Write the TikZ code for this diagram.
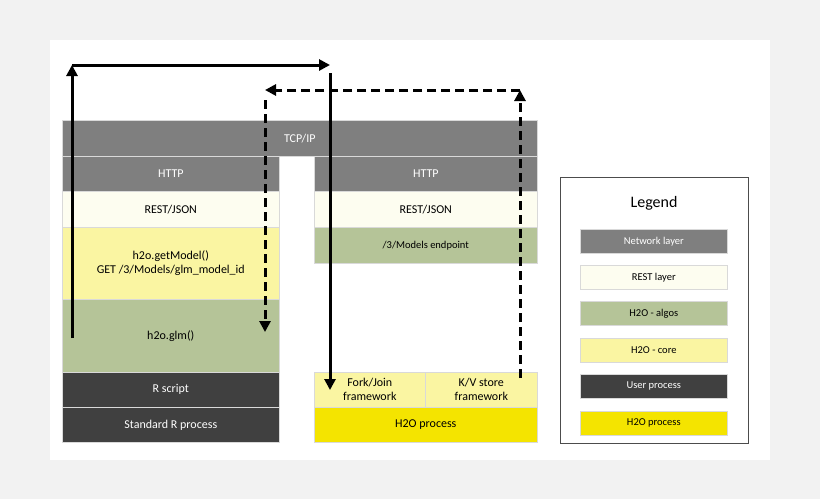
\documentclass[tikz,border=0pt]{standalone}
\usepackage{fontspec}
\setmainfont{Carlito}
\usetikzlibrary{arrows.meta,positioning}
\definecolor{netgray}{HTML}{7F7F7F}
\definecolor{restwhite}{HTML}{FDFDF0}
\definecolor{algogreen}{HTML}{B5C498}
\definecolor{coreyellow}{HTML}{FAF5A2}
\definecolor{userdark}{HTML}{404040}
\definecolor{procyellow}{HTML}{F4E400}
\tikzset{
  layer/.style={draw=black!15, line width=0.6pt, anchor=north west, inner sep=0pt,
    font=\fontsize{12}{14}\selectfont, align=center},
  legitem/.style={layer, minimum width=147pt, minimum height=24pt, font=\fontsize{10.5}{12}\selectfont},
  flow/.style={line width=3pt, -{Triangle[length=11pt,width=11pt]}},
  back/.style={flow, dash pattern=on 9pt off 5pt}
}
\begin{document}
\begin{tikzpicture}[x=1pt,y=-1pt]
    \useasboundingbox (0,0) rectangle (820,499);
    % Background
    \fill[black!5] (0,0) rectangle (820,499);
    \fill[white] (50,40) rectangle (770,460);

    % Network layer
    \node[layer, fill=netgray, text=white, minimum width=475pt, minimum height=36pt] (tcp) at (62,120) {TCP/IP};
    \node[layer, fill=netgray, text=white, minimum width=217pt, minimum height=35pt] (httpL) at (62,156) {HTTP};
    \node[layer, fill=netgray, text=white, minimum width=223pt, minimum height=35pt] (httpR) at (314,156) {HTTP};

    % REST layer
    \node[layer, fill=restwhite, minimum width=217pt, minimum height=36pt] (restL) at (62,191) {REST/JSON};
    \node[layer, fill=restwhite, minimum width=223pt, minimum height=36pt] (restR) at (314,191) {REST/JSON};

    % Client side
    \node[layer, fill=coreyellow, minimum width=217pt, minimum height=72pt] (getmodel) at (62,227) {h2o.getModel()\\GET /3/Models/glm\_model\_id};
    \node[layer, fill=algogreen, minimum width=217pt, minimum height=73pt] (glm) at (62,299) {h2o.glm()};
    \node[layer, fill=userdark, text=white, minimum width=217pt, minimum height=35pt] (rscript) at (62,372) {R script};
    \node[layer, fill=userdark, text=white, minimum width=217pt, minimum height=35pt] (rproc) at (62,407) {Standard R process};

    % Server side
    \node[layer, fill=algogreen, minimum width=223pt, minimum height=36pt, font=\fontsize{10.5}{12}\selectfont] (endpoint) at (314,227) {/3/Models endpoint};
    \node[layer, fill=coreyellow, minimum width=111pt, minimum height=35pt] (forkjoin) at (314,372) {Fork/Join\\framework};
    \node[layer, fill=coreyellow, minimum width=112pt, minimum height=35pt] (kvstore) at (425,372) {K/V store\\framework};
    \node[layer, fill=procyellow, minimum width=223pt, minimum height=35pt] (h2oproc) at (314,407) {H2O process};

    % Request path
    \coordinate (reqA) at (72,338);
    \coordinate (reqB) at (72,65);
    \coordinate (reqC) at (330,65);
    \coordinate (reqD) at (330,73);
    \coordinate (reqE) at (330,390);
    \draw[flow] (reqA) -- (reqB);
    \draw[flow] (reqB) -- (reqC);
    \draw[flow] (reqD) -- (reqE);

    % Response path
    \coordinate (resA) at (520,378);
    \coordinate (resB) at (520,90);
    \coordinate (resC) at (265,90);
    \coordinate (resD) at (265,100);
    \coordinate (resE) at (265,332);
    \draw[back] (resA) -- (resB);
    \draw[back] (resB) -- (resC);
    \draw[back] (resD) -- (resE);

    % Legend
    \draw[black!70, line width=0.8pt, fill=white] (560,177) rectangle (748,443);
    \node[font=\fontsize{16}{18}\selectfont] (legend) at (654,203) {Legend};
    \node[legitem, fill=netgray, text=white] (lgnet) at (580,229) {Network layer};
    \node[legitem, fill=restwhite] (lgrest) at (580,265) {REST layer};
    \node[legitem, fill=algogreen] (lgalgo) at (580,301) {H2O - algos};
    \node[legitem, fill=coreyellow] (lgcore) at (580,338) {H2O - core};
    \node[legitem, fill=userdark, text=white] (lguser) at (580,374) {User process};
    \node[legitem, fill=procyellow] (lgproc) at (580,411) {H2O process};
\end{tikzpicture}
\end{document}
